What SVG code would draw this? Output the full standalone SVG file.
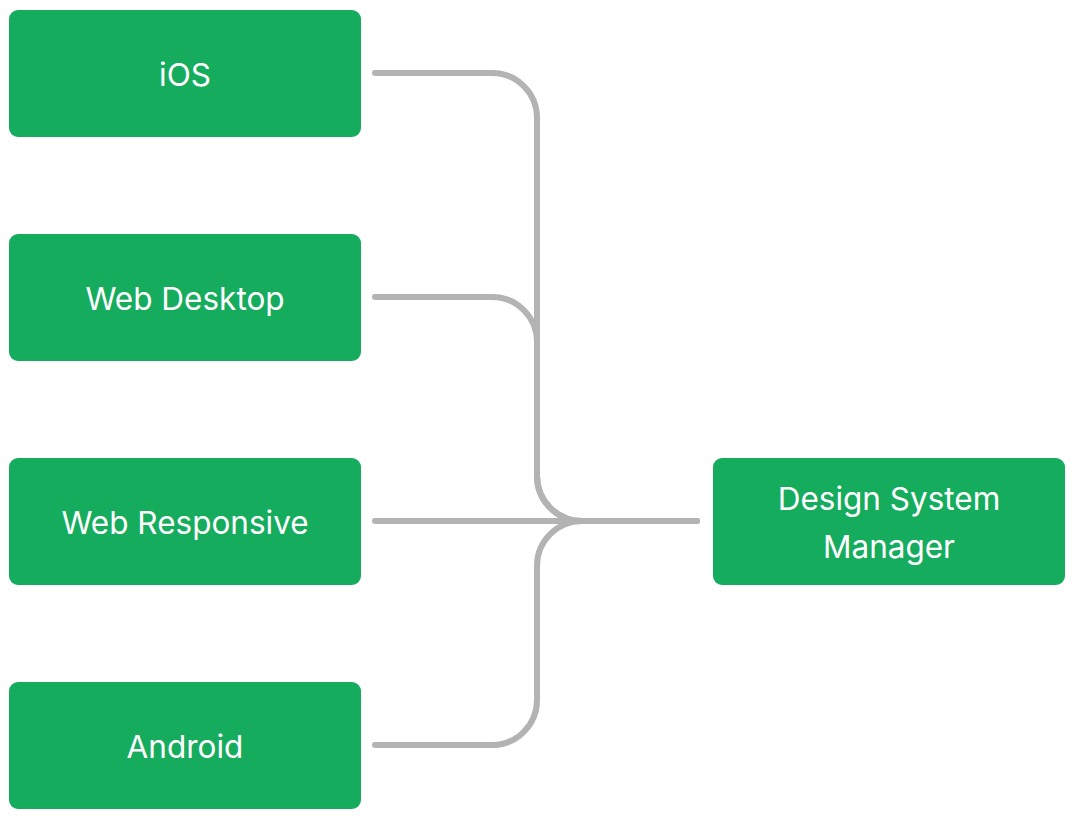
<svg xmlns="http://www.w3.org/2000/svg" width="1076" height="820" viewBox="0 0 1076 820">
<style>
.box{fill:#16AC5E}
.lbl{font-family:Inter,"Liberation Sans",sans-serif;font-size:31.5px;fill:#ffffff;text-anchor:middle;dominant-baseline:central}
.conn{fill:none;stroke:#B3B3B3;stroke-width:6;stroke-linecap:round;stroke-linejoin:round}
</style>
<rect width="1076" height="820" fill="#ffffff"/>
<g id="connectors">
<path class="conn" d="M375 73 H492 A45 45 0 0 1 537 118 V476 A45 45 0 0 0 582 521 H697"/>
<path class="conn" d="M375 297 H492 A45 45 0 0 1 537 342 V476 A45 45 0 0 0 582 521"/>
<path class="conn" d="M375 521 H697"/>
<path class="conn" d="M375 745 H492 A45 45 0 0 0 537 700 V566 A45 45 0 0 1 582 521"/>
</g>
<g id="ios"><rect class="box" x="9" y="10" width="352" height="127" rx="9"/><text class="lbl" x="185" y="74">iOS</text></g>
<g id="web-desktop"><rect class="box" x="9" y="234" width="352" height="127" rx="9"/><text class="lbl" x="185" y="298">Web Desktop</text></g>
<g id="web-responsive"><rect class="box" x="9" y="458" width="352" height="127" rx="9"/><text class="lbl" x="185" y="522">Web Responsive</text></g>
<g id="android"><rect class="box" x="9" y="682" width="352" height="127" rx="9"/><text class="lbl" x="185" y="746">Android</text></g>
<g id="design-system-manager"><rect class="box" x="713" y="458" width="352" height="127" rx="9"/><text class="lbl" x="889" y="498">Design System</text><text class="lbl" x="889" y="546">Manager</text></g>
</svg>
